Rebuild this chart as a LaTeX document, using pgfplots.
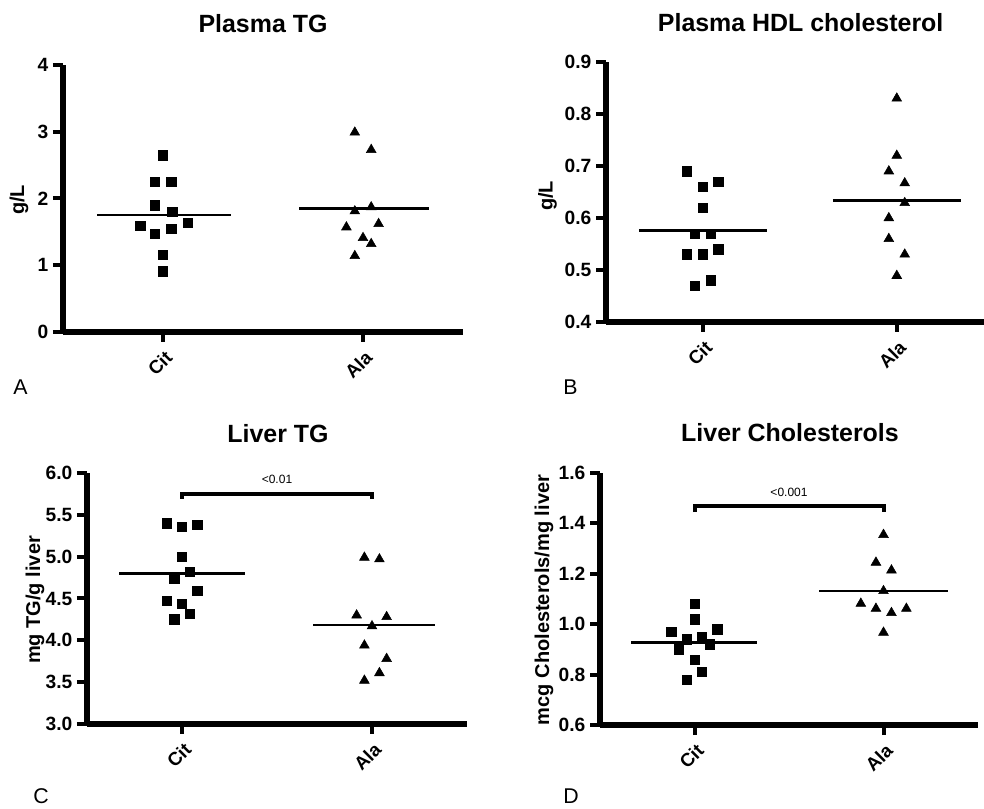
\documentclass[border=0pt]{standalone}
\usepackage{fontspec}
\setmainfont{Liberation Sans}
\usepackage{pgfplots}
\pgfplotsset{compat=1.18}
\pgfplotsset{
  panel/.style={
    scale only axis,
    anchor=south west,
    axis x line*=bottom, axis y line*=left,
    axis line style={line width=4pt, -},
    every tick/.append style={line width=3pt, black},
    major tick length=7.5pt,
    tick align=outside,
    xmin=0.5, xmax=2.5,
    xtick={1,2}, xticklabels={Cit,Ala},
    x tick label style={rotate=45, anchor=north east, yshift=-1pt, font=\bfseries\fontsize{14}{16}\selectfont},
    y tick label style={font=\bfseries\fontsize{14.4}{16}\selectfont},
    /pgf/number format/assume math mode=true,
    clip=false,
  },
  cit/.style={only marks, mark=square*, mark size=3.5pt, black},
  ala/.style={only marks, mark=triangle*, mark size=4.2pt, black},
  meanline/.style={black, line width=1.8pt, mark=none},
  bracket/.style={black, line width=3pt, mark=none},
}
\begin{document}
\begin{tikzpicture}
\path[use as bounding box] (0,0) rectangle (738pt,606.75pt);
% ---------- A ----------
\begin{axis}[panel, at={(47.25pt,357.75pt)}, width=300pt, height=200.25pt,
  ymin=0, ymax=4, ytick={0,1,2,3,4}]
\addplot[cit] coordinates {(1.0,2.65) (0.959,2.25) (1.041,2.25) (0.959,1.90) (1.046,1.80)
  (0.886,1.59) (1.123,1.64) (0.959,1.47) (1.041,1.55) (1.0,1.16) (1.0,0.91)};
\addplot[ala] coordinates {(1.959,2.99) (2.041,2.73) (1.959,1.81) (2.041,1.87) (1.917,1.57)
  (2.078,1.62) (2.0,1.41) (2.041,1.32) (1.959,1.14)};
\addplot[meanline] coordinates {(0.67,1.75) (1.34,1.75)};
\addplot[meanline] coordinates {(1.68,1.85) (2.33,1.85)};
\end{axis}
% ---------- B ----------
\begin{axis}[panel, at={(454.5pt,365.25pt)}, width=283.5pt, height=195pt,
  xmax=2.45, ymin=0.4, ymax=0.9, ytick={0.4,0.5,0.6,0.7,0.8,0.9},
  yticklabel style={/pgf/number format/.cd, fixed, fixed zerofill, precision=1}]
\addplot[cit] coordinates {(0.918,0.69) (1.0,0.66) (1.079,0.67) (1.0,0.62) (0.959,0.57)
  (1.041,0.57) (0.918,0.53) (1.0,0.53) (1.079,0.54) (1.041,0.48) (0.959,0.47)};
\addplot[ala] coordinates {(2.0,0.83) (2.0,0.72) (1.959,0.69) (2.041,0.667) (2.041,0.629)
  (1.959,0.60) (1.959,0.56) (2.041,0.53) (2.0,0.489)};
\addplot[meanline] coordinates {(0.67,0.576) (1.33,0.576)};
\addplot[meanline] coordinates {(1.67,0.634) (2.33,0.634)};
\end{axis}
% ---------- C ----------
\begin{axis}[panel, at={(65.25pt,63.75pt)}, width=285pt, height=188.25pt,
  ymin=3, ymax=6, ytick={3,3.5,4,4.5,5,5.5,6},
  yticklabel style={/pgf/number format/.cd, fixed, fixed zerofill, precision=1}]
\addplot[cit] coordinates {(0.919,5.40) (1.0,5.36) (1.081,5.38) (1.0,5.00) (1.042,4.82)
  (0.96,4.74) (1.081,4.59) (0.919,4.47) (1.0,4.44) (1.042,4.32) (0.96,4.25)};
\addplot[ala] coordinates {(1.96,4.99) (2.039,4.97) (1.919,4.30) (2.077,4.28) (2.0,4.17)
  (1.96,3.94) (2.077,3.78) (2.039,3.61) (1.96,3.52)};
\addplot[meanline] coordinates {(0.67,4.80) (1.33,4.80)};
\addplot[meanline] coordinates {(1.69,4.18) (2.33,4.18)};
\addplot[bracket] coordinates {(1,5.69) (1,5.75) (2,5.75) (2,5.69)};
\node[font=\fontsize{9}{10}\selectfont, anchor=base] at (axis cs:1.5,5.873) {<0.01};
\end{axis}
% ---------- D ----------
\begin{axis}[panel, at={(450pt,63pt)}, width=283.5pt, height=189pt,
  ymin=0.6, ymax=1.6, ytick={0.6,0.8,1.0,1.2,1.4,1.6},
  yticklabel style={/pgf/number format/.cd, fixed, fixed zerofill, precision=1}]
\addplot[cit] coordinates {(1.0,1.08) (1.0,1.02) (0.877,0.97) (1.12,0.98) (0.96,0.94)
  (1.04,0.95) (1.079,0.92) (0.917,0.90) (1.0,0.86) (1.04,0.81) (0.96,0.78)};
\addplot[ala] coordinates {(2.0,1.355) (1.96,1.245) (2.042,1.214) (2.0,1.132) (1.88,1.082)
  (1.96,1.062) (2.042,1.045) (2.121,1.062) (2.0,0.967)};
\addplot[meanline] coordinates {(0.665,0.928) (1.33,0.928)};
\addplot[meanline] coordinates {(1.66,1.131) (2.34,1.131)};
\addplot[bracket] coordinates {(1,1.445) (1,1.468) (2,1.468) (2,1.445)};
\node[font=\fontsize{9}{10}\selectfont, anchor=base] at (axis cs:1.5,1.505) {<0.001};
\end{axis}
% ---------- titles ----------
\tikzset{ttl/.style={anchor=base, font=\bfseries\fontsize{18.7}{20}\selectfont, inner sep=0pt}}
\node[ttl] at (197.25pt,582pt) {Plasma TG};
\node[ttl] at (600.5pt,582.75pt) {Plasma HDL cholesterol};
\node[ttl] at (208.5pt,274.7pt) {Liver TG};
\node[ttl] at (592.5pt,275.25pt) {Liver Cholesterols};
% ---------- y labels ----------
\tikzset{yl/.style={anchor=center, rotate=90, font=\bfseries\fontsize{15}{17}\selectfont, inner sep=0pt}}
\node[yl] at (14.25pt,456.75pt) {g/L};
\node[yl] at (410.6pt,459.75pt) {g/L};
\node[yl] at (26.25pt,156.75pt) {mg TG/g liver};
\node[yl] at (408pt,156.75pt) {mcg Cholesterols/mg liver};
% ---------- panel letters ----------
\tikzset{pl/.style={anchor=base west, font=\fontsize{16}{18}\selectfont, inner sep=0pt}}
\node[pl] at (9.75pt,310.5pt) {A};
\node[pl] at (422.25pt,310.5pt) {B};
\node[pl] at (24.75pt,3.75pt) {C};
\node[pl] at (422.25pt,3.75pt) {D};
\end{tikzpicture}
\end{document}
